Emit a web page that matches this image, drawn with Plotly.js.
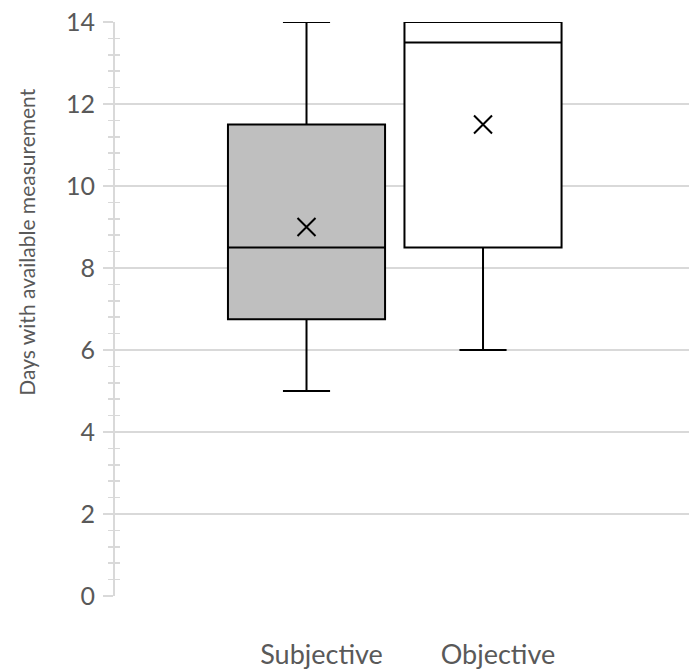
<!DOCTYPE html>
<html>
<head>
<meta charset="utf-8">
<script src="https://cdn.plot.ly/plotly-3.0.1.min.js"></script>
<style>html,body{margin:0;padding:0;background:#fff}#chart{width:689px;height:670px}</style>
</head>
<body>
<div id="chart"></div>
<script>
const categories = ["Subjective", "Objective"];
const positions = [0, 1];
const minVals = [5, 6];
const q1Vals = [6.75, 8.5];
const medianVals = [8.5, 13.5];
const q3Vals = [11.5, 14];
const maxVals = [14, 14];
const meanVals = [9, 11.5];
const fillColors = ["#bfbfbf", "#ffffff"];
const yTitle = "Days with available measurement";

const traces = categories.map((c, i) => ({
  type: "box",
  name: c,
  x: [positions[i]],
  q1: [q1Vals[i]],
  median: [medianVals[i]],
  q3: [q3Vals[i]],
  lowerfence: [minVals[i]],
  upperfence: [maxVals[i]],
  width: 0.89,
  whiskerwidth: 0.3,
  fillcolor: fillColors[i],
  line: {color: "#000000", width: 2},
  showlegend: false,
  hoverinfo: "skip"
}));

traces.push({
  type: "scatter",
  mode: "markers",
  x: positions,
  y: meanVals,
  marker: {symbol: "x-thin", size: 18, color: "#000", line: {color: "#000", width: 2}},
  showlegend: false,
  hoverinfo: "skip"
});

// overlay axis for crossing minor ticks
traces.push({
  type: "scatter", mode: "markers", x: [positions[0]], y: [0], yaxis: "y2",
  marker: {opacity: 0}, showlegend: false, hoverinfo: "skip"
});

const fontFam = "Lato, 'Open Sans', sans-serif";
const layout = {
  width: 689, height: 670,
  margin: {l: 115, r: 0, t: 22, b: 74},
  paper_bgcolor: "#fff", plot_bgcolor: "#fff",
  boxmode: "overlay",
  font: {family: fontFam, color: "#595959", size: 21},
  xaxis: {
    range: [-1.085, 2.167],
    tickvals: positions,
    ticktext: categories,
    showgrid: false, zeroline: false, showline: false,
    ticks: "",
    ticklabelstandoff: 40,
    ticklabelshift: 15,
    tickfont: {size: 27, color: "#595959", family: fontFam}
  },
  yaxis: {
    range: [0, 14],
    dtick: 2,
    showgrid: true, gridcolor: "#d9d9d9", gridwidth: 1.5,
    zeroline: false,
    showline: true, linecolor: "#d9d9d9", linewidth: 2,
    ticks: "outside", ticklen: 10, tickcolor: "#d9d9d9", tickwidth: 1.5,
    minor: {dtick: 0.4, ticks: "outside", ticklen: 5, tickcolor: "#d9d9d9", tickwidth: 1.5, showgrid: false},
    ticklabelstandoff: 3,
    tickfont: {size: 25, color: "#595959", family: fontFam}
  },
  yaxis2: {
    range: [0, 14], overlaying: "y", side: "left", anchor: "x",
    dtick: 0.4, ticks: "inside", ticklen: 5, tickcolor: "#d9d9d9", tickwidth: 1.5,
    showticklabels: false, showgrid: false, zeroline: false, showline: false
  },
  annotations: [{
    text: yTitle, textangle: -90,
    xref: "paper", yref: "paper",
    x: -0.1535, y: 0.617, xanchor: "center", yanchor: "middle",
    showarrow: false,
    font: {size: 21, color: "#595959", family: fontFam}
  }]
};

Plotly.newPlot("chart", traces, layout, {displayModeBar: false, staticPlot: true});
</script>
</body>
</html>
